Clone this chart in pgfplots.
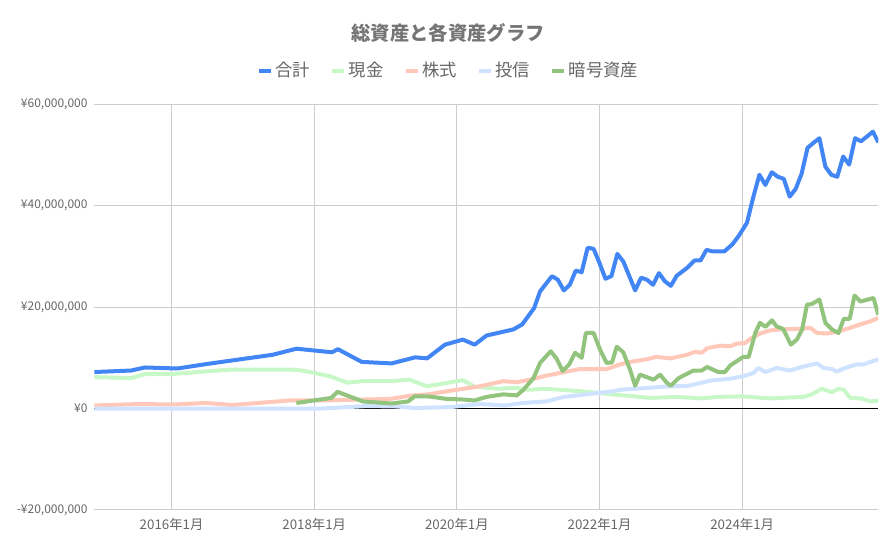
\documentclass[border=0pt]{standalone}
\usepackage{fontspec}
\setmainfont{Noto Sans CJK JP}
\usepackage{pgfplots}
\pgfplotsset{compat=1.18}
\definecolor{cTotal}{HTML}{4285F4}
\definecolor{cCash}{HTML}{C8F8C8}
\definecolor{cStock}{HTML}{FFC8B8}
\definecolor{cTrust}{HTML}{CFE2FF}
\definecolor{cCrypto}{HTML}{93C47D}
\definecolor{cGrid}{HTML}{CCCCCC}
\definecolor{cText}{HTML}{666666}
\definecolor{cTitle}{HTML}{757575}
\begin{document}
\begin{tikzpicture}
\useasboundingbox (-70.7pt,-28.5pt) rectangle (601.3pt,382.5pt);
\begin{axis}[
  scale only axis,
  width=588pt, height=304.3pt,
  xmin=-13, xmax=118.9,
  ymin=-20, ymax=60,
  xtick={0,24,48,72,96},
  xticklabels={2016年1月,2018年1月,2020年1月,2022年1月,2024年1月},
  ytick={-20,0,20,40,60},
  yticklabels={{-¥20,000,000},{¥0},{¥20,000,000},{¥40,000,000},{¥60,000,000}},
  extra y ticks={0},
  extra y tick labels={},
  extra y tick style={grid style={draw=black, line width=0.75pt}},
  grid=major,
  grid style={draw=cGrid, line width=0.75pt},
  axis line style={draw=none},
  major tick length=0pt,
  tick label style={text=cText},
  yticklabel style={font=\fontsize{9pt}{11pt}\selectfont, xshift=-1.5pt},
  xticklabel style={font=\fontsize{10pt}{12pt}\selectfont, yshift=-2.5pt},
  title={\textbf{総資産と各資産グラフ}},
  title style={at={(0.4516,1.1568)}, anchor=center, font=\fontsize{14.5pt}{16pt}\selectfont, text=cTitle},
  legend columns=5,
  legend style={at={(0.4524,1.0828)}, anchor=center, draw=none, fill=none,
    font=\fontsize{13pt}{15pt}\selectfont, text=cText,
    /tikz/every even column/.append style={column sep=13pt}},
  legend image code/.code={\draw[line width=3pt] (0pt,0pt) -- (9pt,0pt);},
  every axis plot/.append style={line width=3pt, line join=round},
]
\addplot[cTotal] coordinates {
(-13,7.2) (-6.8,7.5) (-4.5,8.1) (1,7.9) (6,8.8) (17,10.6) (21,11.8) (27,11.1) (28,11.7) (32,9.2) (37,8.9) (41,10.1) (43,9.9) (46,12.6) (49,13.6) (51,12.6) (53,14.4) (57.5,15.6) (59,16.6) (61,19.8) (62,23.1) (64,26.1) (65,25.4) (66,23.3) (67,24.4) (68,27.2) (69,26.9) (70,31.7) (71,31.5) (72,28.7) (73,25.6) (74,26.1) (75,30.5) (76,29.0) (78,23.3) (79,25.8) (80,25.4) (81,24.4) (82,26.7) (83,25.1) (84,24.2) (85,26.2) (86.7,27.7) (88,29.2) (89,29.2) (90,31.3) (91,31.0) (93,31.0) (94.3,32.3) (95.4,34.0) (96.8,36.6) (97.9,41.8) (98.9,46.1) (99.9,44.1) (101,46.6) (102,45.7) (103,45.3) (104,41.8) (105,43.3) (106,46.3) (107,51.4) (108,52.4) (109,53.3) (110,47.7) (111,46.1) (112,45.7) (113,49.7) (114,48.1) (115,53.3) (116,52.7) (118,54.6) (118.9,52.5)
};
\addlegendentry{合計}
\addplot[cCash] coordinates {
(-13,6.2) (-6.8,6.0) (-4.5,6.8) (0,6.8) (10,7.7) (20,7.7) (22,7.5) (26.6,6.4) (29.6,5.1) (32,5.4) (37,5.4) (40,5.7) (43,4.4) (49,5.6) (51,4.3) (55,3.9) (58,4.1) (60,3.7) (63,3.9) (69,3.4) (74,2.8) (77,2.5) (80.5,2.1) (85,2.3) (89,2.0) (92,2.3) (96,2.4) (100.7,2.0) (106.3,2.3) (107.7,2.8) (109.4,3.9) (111.1,3.2) (112.2,3.9) (113.1,3.7) (114.2,2.1) (116,2.0) (117.6,1.4) (118.9,1.6)
};
\addlegendentry{現金}
\addplot[cStock] coordinates {
(-13,0.6) (-5.4,0.9) (0.2,0.8) (5.8,1.1) (10.3,0.7) (19.9,1.6) (25.5,1.6) (36.7,1.9) (40.6,2.6) (43.2,2.8) (46.3,3.4) (51.9,4.4) (55.8,5.4) (58.1,5.2) (60.3,5.7) (63.1,6.5) (65.3,7.0) (68.7,7.8) (73.2,7.8) (75.5,8.7) (77.1,9.2) (79.9,9.7) (81.6,10.2) (83.9,9.9) (86.7,10.6) (88.1,11.2) (89.2,11.0) (90.1,11.9) (92.3,12.4) (94,12.3) (95.1,12.8) (96.5,12.9) (97.3,13.7) (99,14.8) (100.7,15.4) (102.4,15.6) (105.2,15.7) (107.5,15.9) (108.6,14.9) (110.3,14.8) (111.9,15.1) (113.6,15.7) (115.9,16.6) (117.6,17.2) (118.9,17.9)
};
\addlegendentry{株式}
\addplot[cTrust] coordinates {
(-13,0.0) (25,0.0) (33,0.5) (38,0.4) (41,0.1) (47,0.3) (52,0.9) (56,0.6) (59,1.1) (63,1.4) (66,2.3) (69,2.7) (72,3.1) (74.3,3.4) (75.5,3.7) (78,3.9) (80.5,4.1) (82.7,4.3) (87,4.5) (90.6,5.5) (94,5.9) (96.2,6.4) (97.9,7.0) (98.7,8.0) (99.9,7.2) (101.8,8.0) (104,7.5) (106.3,8.3) (108.6,8.9) (109.7,8.0) (111.1,7.8) (111.9,7.3) (113.6,8.1) (115.3,8.7) (116.4,8.7) (117.6,9.2) (118.9,9.7)
};
\addlegendentry{投信}
\addplot[cCrypto] coordinates {
(21,1.1) (26.9,2.1) (27.9,3.3) (32.2,1.4) (37,1.0) (39.8,1.4) (40.9,2.4) (43.2,2.4) (46.3,1.9) (48.8,1.8) (51,1.6) (53,2.3) (55.8,2.8) (58.1,2.6) (59.2,3.7) (60.9,6.0) (62,9.0) (63.8,11.3) (64.8,9.8) (65.8,7.4) (66.9,8.7) (67.9,11.0) (69,10.0) (69.7,14.9) (71,14.9) (72.1,11.6) (73.2,9.0) (74.1,9.1) (74.9,12.2) (76,11.1) (77.1,7.8) (78,4.5) (78.8,6.7) (81.1,5.7) (82.2,6.7) (83.3,5.1) (84,4.5) (85.3,6.0) (87.8,7.5) (89.2,7.5) (90.1,8.2) (92,7.2) (93.1,7.2) (94,8.5) (96.2,10.2) (97.1,10.2) (98.2,14.9) (99,16.9) (99.9,16.1) (101,17.4) (101.8,16.2) (102.9,15.7) (104.2,12.6) (105.2,13.6) (106.1,15.6) (106.9,20.5) (107.7,20.6) (109,21.5) (110,16.9) (111.1,15.6) (112.2,14.9) (113.1,17.7) (114.1,17.7) (114.9,22.3) (115.9,21.1) (118.1,21.8) (118.9,18.5)
};
\addlegendentry{暗号資産}
\end{axis}
\end{tikzpicture}
\end{document}
